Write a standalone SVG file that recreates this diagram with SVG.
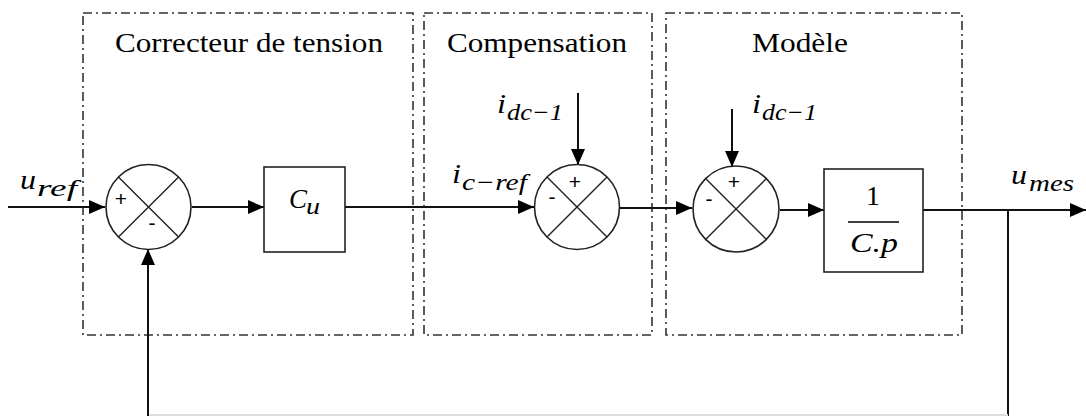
<svg xmlns="http://www.w3.org/2000/svg" width="1086" height="416" viewBox="0 0 1086 416">
<style>
.frame{fill:none;stroke:#333;stroke-width:1.6;stroke-dasharray:9 4 2 4}
.blk{fill:#fff;stroke:#222;stroke-width:1.6}
.sum{fill:#fff;stroke:#222;stroke-width:1.6}
.x{stroke:#222;stroke-width:1.4}
.wire{fill:none;stroke:#111;stroke-width:2}
.title{font-size:27px;fill:#000}
.m{font-style:italic;font-size:28px;fill:#000}
.s{font-style:italic;font-size:23px;fill:#000}
.sign{font-size:21px;fill:#000;text-anchor:middle}
</style>
<defs>
<marker id="ah" viewBox="0 0 16 14" refX="16" refY="7" markerWidth="16" markerHeight="14" markerUnits="userSpaceOnUse" orient="auto">
<path d="M0,0 L16,7 L0,14 Z" fill="#000"/>
</marker>
</defs>
<rect width="1086" height="416" fill="#fff"/>
<g id="frame-correcteur">
<rect class="frame" x="83" y="13" width="330" height="322"/>
<text class="title" font-family="Liberation Serif, DejaVu Serif, serif" x="115" y="52" textLength="268" lengthAdjust="spacingAndGlyphs">Correcteur de tension</text>
</g>
<g id="frame-compensation">
<rect class="frame" x="424" y="13" width="228" height="322"/>
<text class="title" font-family="Liberation Serif, DejaVu Serif, serif" x="447" y="52" textLength="180" lengthAdjust="spacingAndGlyphs">Compensation</text>
</g>
<g id="frame-modele">
<rect class="frame" x="666" y="13" width="296" height="322"/>
<text class="title" font-family="Liberation Serif, DejaVu Serif, serif" x="752" y="52" textLength="96" lengthAdjust="spacingAndGlyphs">Modèle</text>
</g>
<g id="connectors">
<line class="wire" x1="8" y1="207" x2="105" y2="207" marker-end="url(#ah)"/>
<line class="wire" x1="192" y1="207" x2="264" y2="207" marker-end="url(#ah)"/>
<line class="wire" x1="345" y1="207" x2="534" y2="207" marker-end="url(#ah)"/>
<line class="wire" x1="578" y1="93" x2="578" y2="165" marker-end="url(#ah)"/>
<line class="wire" x1="620" y1="208" x2="692" y2="208" marker-end="url(#ah)"/>
<line class="wire" x1="732" y1="109" x2="732" y2="167" marker-end="url(#ah)"/>
<line class="wire" x1="780" y1="210" x2="824" y2="210" marker-end="url(#ah)"/>
<line class="wire" x1="923" y1="210" x2="1086" y2="210" marker-end="url(#ah)"/>
<line class="wire" x1="1008" y1="210" x2="1008" y2="416"/>
<line x1="148" y1="415" x2="1008" y2="415" stroke="#ddd" stroke-width="2"/>
<line class="wire" x1="148" y1="416" x2="148" y2="249" marker-end="url(#ah)"/>
</g>
<g id="sum1">
<circle class="sum" cx="148.5" cy="207" r="42.5"/>
<line class="x" x1="118.4" y1="176.9" x2="178.6" y2="237.1"/>
<line class="x" x1="178.6" y1="176.9" x2="118.4" y2="237.1"/>
<text class="sign" font-family="Liberation Sans, sans-serif" x="121" y="206">+</text>
<text class="sign" font-family="Liberation Sans, sans-serif" x="152" y="230">-</text>
</g>
<g id="cu">
<rect class="blk" x="264" y="167" width="81" height="85"/>
<text class="m" font-family="Liberation Serif, DejaVu Serif, serif" x="289" y="208" textLength="18" lengthAdjust="spacingAndGlyphs">C</text>
<text class="s" font-family="Liberation Serif, DejaVu Serif, serif" x="306" y="214" textLength="14" lengthAdjust="spacingAndGlyphs">u</text>
</g>
<g id="sum2">
<circle class="sum" cx="577" cy="207" r="42.5"/>
<line class="x" x1="547" y1="177" x2="607" y2="237"/>
<line class="x" x1="607" y1="177" x2="547" y2="237"/>
<text class="sign" font-family="Liberation Sans, sans-serif" x="575" y="189">+</text>
<text class="sign" font-family="Liberation Sans, sans-serif" x="552" y="204">-</text>
</g>
<g id="sum3">
<circle class="sum" cx="736" cy="209" r="43"/>
<line class="x" x1="705.6" y1="178.6" x2="766.4" y2="239.4"/>
<line class="x" x1="766.4" y1="178.6" x2="705.6" y2="239.4"/>
<text class="sign" font-family="Liberation Sans, sans-serif" x="734" y="189">+</text>
<text class="sign" font-family="Liberation Sans, sans-serif" x="709" y="206">-</text>
</g>
<g id="plant">
<rect class="blk" x="824" y="169" width="99" height="103"/>
<text x="873" y="205" font-family="Liberation Serif, DejaVu Serif, serif" font-size="28" text-anchor="middle">1</text>
<line x1="848" y1="222" x2="899" y2="222" stroke="#000" stroke-width="1.6"/>
<text class="m" font-family="Liberation Serif, DejaVu Serif, serif" x="850" y="252" textLength="48" lengthAdjust="spacingAndGlyphs">C.p</text>
</g>
<g id="labels" font-family="Liberation Serif, DejaVu Serif, serif">
<text class="m" x="20" y="189" textLength="16" lengthAdjust="spacingAndGlyphs">u</text>
<text class="s" x="37" y="196" textLength="40" lengthAdjust="spacingAndGlyphs">ref</text>
<text class="m" x="497" y="113" textLength="9" lengthAdjust="spacingAndGlyphs">i</text>
<text class="s" x="507" y="120" textLength="56" lengthAdjust="spacingAndGlyphs">dc−1</text>
<text class="m" x="452" y="183" textLength="9" lengthAdjust="spacingAndGlyphs">i</text>
<text class="s" x="462" y="190" textLength="65" lengthAdjust="spacingAndGlyphs">c−ref</text>
<text class="m" x="752" y="113" textLength="9" lengthAdjust="spacingAndGlyphs">i</text>
<text class="s" x="762" y="120" textLength="55" lengthAdjust="spacingAndGlyphs">dc−1</text>
<text class="m" x="1011" y="184" textLength="16" lengthAdjust="spacingAndGlyphs">u</text>
<text class="s" x="1029" y="191" textLength="45" lengthAdjust="spacingAndGlyphs">mes</text>
</g>
</svg>
